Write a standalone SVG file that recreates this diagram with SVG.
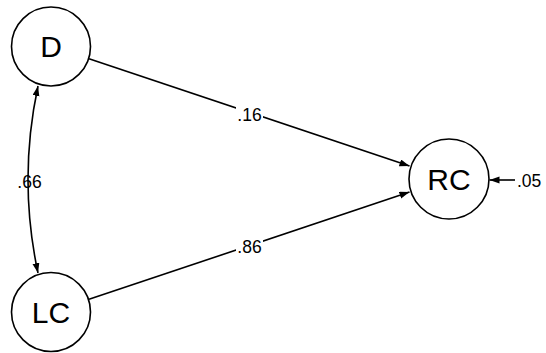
<svg xmlns="http://www.w3.org/2000/svg" width="546" height="353" viewBox="0 0 546 353">
<style>
.node circle{fill:#fff;stroke:#000;stroke-width:1.6}
.node text{font-family:"Liberation Sans",Arial,sans-serif;font-size:30px;text-anchor:middle;fill:#000}
.edge{fill:none;stroke:#000;stroke-width:1.6}
.lbl{font-family:"Liberation Sans",Arial,sans-serif;font-size:17.5px;fill:#000}
.bg{fill:#fff}
</style>
<defs>
<marker id="ah" markerUnits="userSpaceOnUse" markerWidth="11" markerHeight="8" refX="10" refY="3.5" orient="auto-start-reverse">
<path d="M0,0 L10,3.5 L0,7 z" fill="#000"/>
</marker>
</defs>
<g id="connectors">
<path class="edge" d="M89,58.7 L409.5,166" marker-end="url(#ah)"/>
<path class="edge" d="M89,299.3 L409.5,192" marker-end="url(#ah)"/>
<path class="edge" d="M38,86 Q18,179.5 38,273" marker-start="url(#ah)" marker-end="url(#ah)"/>
<path class="edge" d="M515,180 L489.5,180" marker-end="url(#ah)"/>
<rect class="bg" x="236" y="105" width="27" height="18"/>
<text class="lbl" x="249.5" y="121" text-anchor="middle">.16</text>
<rect class="bg" x="236" y="237" width="27" height="18"/>
<text class="lbl" x="249.5" y="253" text-anchor="middle">.86</text>
<text class="lbl" x="29.5" y="188" text-anchor="middle">.66</text>
<text class="lbl" x="517" y="186.5">.05</text>
</g>
<g id="node-D" class="node">
<circle cx="51" cy="46.5" r="39.5"/>
<text x="51" y="57">D</text>
</g>
<g id="node-LC" class="node">
<circle cx="51" cy="312" r="39.5"/>
<text x="51" y="323">LC</text>
</g>
<g id="node-RC" class="node">
<circle cx="449" cy="179" r="40"/>
<text x="449" y="190">RC</text>
</g>
</svg>
